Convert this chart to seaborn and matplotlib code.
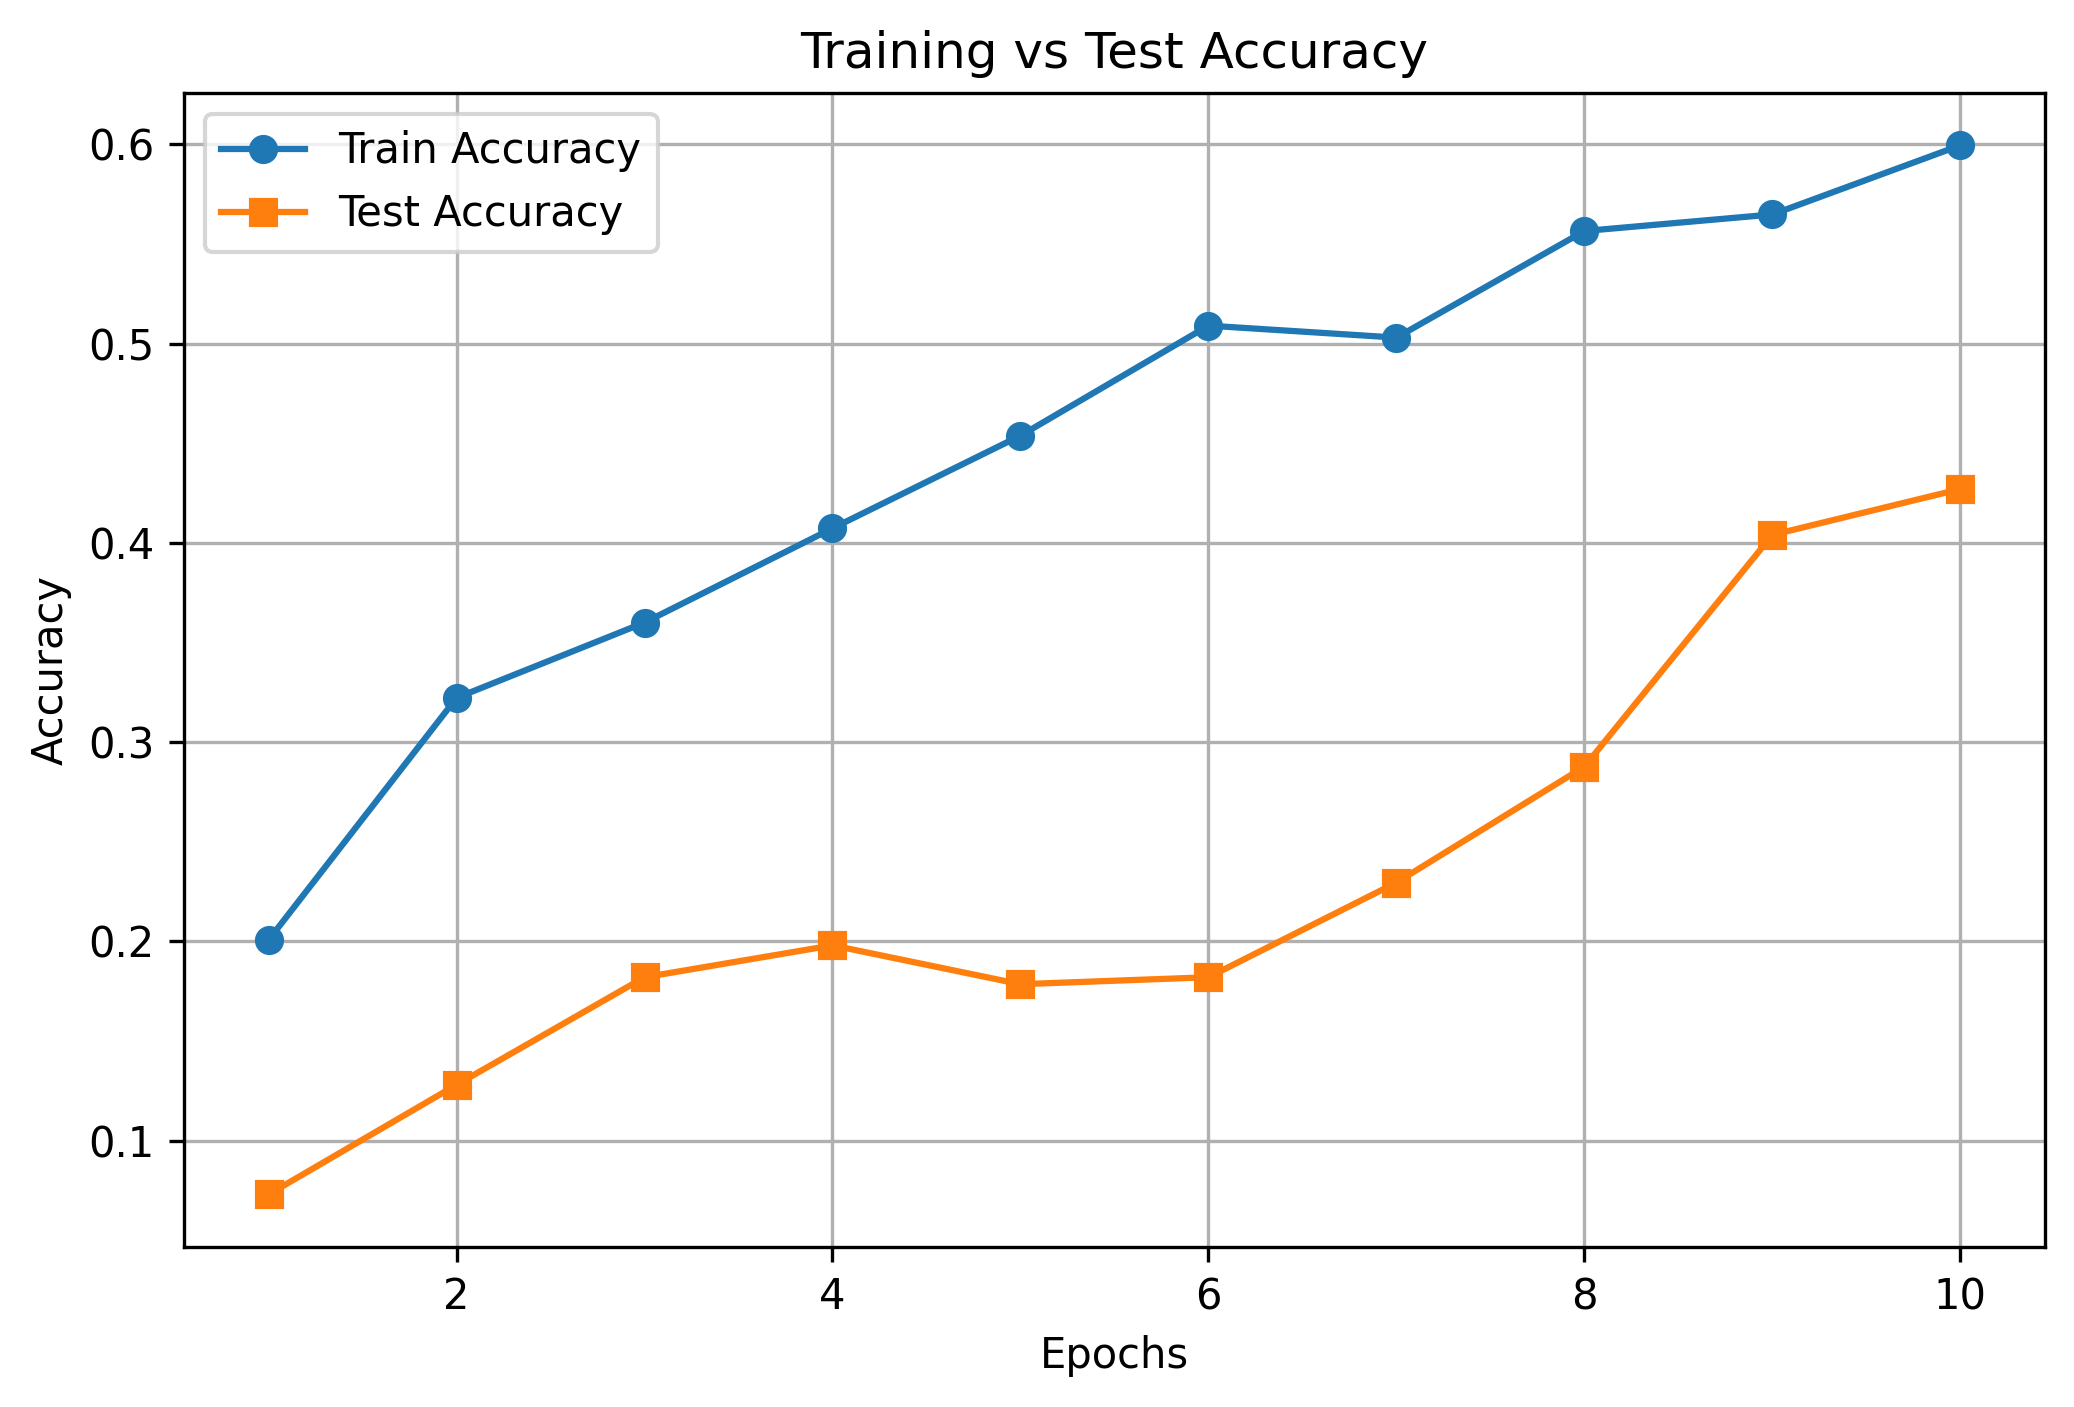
import matplotlib
matplotlib.use("Agg")
import matplotlib.pyplot as plt
import seaborn as sns

epochs = [1, 2, 3, 4, 5, 6, 7, 8, 9, 10]
train_acc = [0.2007, 0.3222, 0.3600, 0.4073, 0.4538, 0.5090, 0.5030, 0.5565, 0.5648, 0.5995]
test_acc = [0.0730, 0.1280, 0.1820, 0.1980, 0.1785, 0.1820, 0.2295, 0.2877, 0.4040, 0.4270]

blue = "#1f77b4"
orange = "#ff7f0e"

dpi = 300
fig, ax = plt.subplots(figsize=(2074 / dpi, 1407 / dpi), dpi=dpi)
fig.subplots_adjust(left=0.0887, right=0.986, top=0.934, bottom=0.1138)

# seaborn thins the marker edge by default, put the matplotlib look back
sns.lineplot(x=epochs, y=train_acc, ax=ax, color=blue, marker="o", markersize=6,
             markeredgecolor=blue, markeredgewidth=1.0, linewidth=1.5,
             label="Train Accuracy")
sns.lineplot(x=epochs, y=test_acc, ax=ax, color=orange, marker="s", markersize=6,
             markeredgecolor=orange, markeredgewidth=1.0, linewidth=1.5,
             label="Test Accuracy")

ax.set_title("Training vs Test Accuracy", fontsize=12)
ax.set_xlabel("Epochs")
ax.set_ylabel("Accuracy")
ax.grid(True)
ax.legend(loc="upper left")

fig.savefig("out.png", dpi=dpi)
